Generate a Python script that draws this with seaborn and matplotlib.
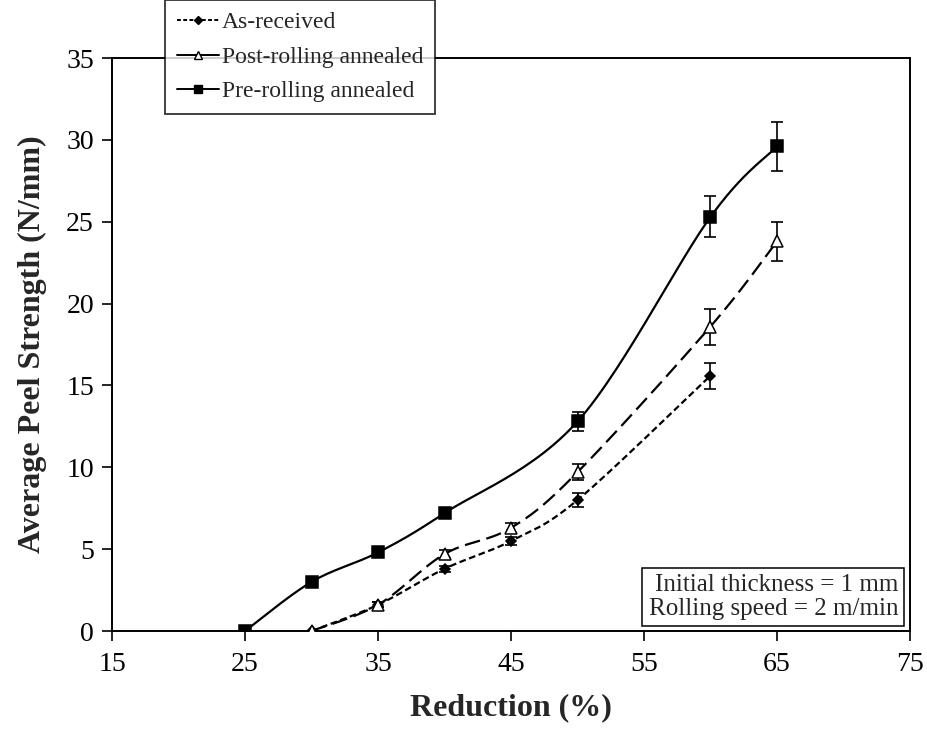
import numpy as np
import pandas as pd
import matplotlib
matplotlib.use("Agg")
import matplotlib.pyplot as plt
from matplotlib.lines import Line2D
import seaborn as sns

# data
asr_x = [30, 35, 40, 45, 50, 60]
asr_y = [0.0, 1.6, 3.8, 5.5, 8.0, 15.6]
asr_err = [0.0, 0.15, 0.2, 0.25, 0.45, 0.8]

post_x = [30, 35, 40, 45, 50, 60, 65]
post_y = [0.0, 1.6, 4.7, 6.3, 9.7, 18.6, 23.8]
post_err = [0.0, 0.15, 0.25, 0.3, 0.5, 1.1, 1.2]

pre_x = [25, 30, 35, 40, 50, 60, 65]
pre_y = [0.0, 3.0, 4.8, 7.2, 12.8, 25.3, 29.6]
pre_err = [0.0, 0.15, 0.2, 0.3, 0.6, 1.25, 1.5]

labels = ["As-received", "Post-rolling annealed", "Pre-rolling annealed"]


def smooth(x, y, n=30):
    # Catmull-Rom curve through the points (like a smoothed line in a spreadsheet)
    p = np.column_stack([x, y]).astype(float)
    p = np.vstack([p[0], p, p[-1]])
    out = []
    t = np.linspace(0, 1, n)[:, None]
    for i in range(1, len(p) - 2):
        p0, p1, p2, p3 = p[i - 1], p[i], p[i + 1], p[i + 2]
        seg = 0.5 * ((2 * p1) + (-p0 + p2) * t + (2 * p0 - 5 * p1 + 4 * p2 - p3) * t ** 2
                     + (-p0 + 3 * p1 - 3 * p2 + p3) * t ** 3)
        out.append(seg)
    s = np.vstack(out)
    return s[:, 0], s[:, 1]


sns.set_style("ticks")
plt.rcParams["font.family"] = ["Liberation Serif", "DejaVu Serif"]

fig = plt.figure(figsize=(9.28, 7.3), dpi=100)
ax = fig.add_axes([0.1207, 0.1356, 0.8599, 0.7849])

series = [
    (asr_x, asr_y, asr_err, (3, 1.6), "D", "black", 5),
    (post_x, post_y, post_err, (7, 3), "^", "white", 8),
    (pre_x, pre_y, pre_err, None, "s", "black", 8),
]
legend_ls = [(0, (2, 1.2)), "-", "-"]
handles = []
for (x, y, e, dash, mk, fc, ms), lab, lls in zip(series, labels, legend_ls):
    sx, sy = smooth(x, y)
    df = pd.DataFrame({"x": sx, "y": sy})
    sns.lineplot(data=df, x="x", y="y", sort=False, estimator=None, ax=ax,
                 color="black", linewidth=1.6)
    if dash is not None:
        ax.lines[-1].set_dashes(dash)
    ax.errorbar(x, y, yerr=e, fmt="none", ecolor="black", elinewidth=1.2,
                capsize=4, capthick=1.2, zorder=3)
    ax.plot(x, y, linestyle="none", marker=mk, markersize=ms, markerfacecolor=fc,
            markeredgecolor="black", markeredgewidth=1.1, zorder=4)
    handles.append(Line2D([0], [0], color="black", linewidth=1.4, linestyle=lls,
                          marker=mk, markersize=ms * 0.8, markerfacecolor=fc,
                          markeredgecolor="black"))

ax.set_xlim(15, 75)
ax.set_ylim(0, 35)
ax.set_xticks(np.arange(15, 76, 10))
ax.set_yticks(np.arange(0, 36, 5))
ax.tick_params(axis="both", direction="out", length=7, width=1.2, labelsize=20,
               colors="black")
ax.tick_params(axis="x", pad=8)
ax.tick_params(axis="y", pad=6)
for sp in ax.spines.values():
    sp.set_visible(True)
    sp.set_color("black")
    sp.set_linewidth(1.4)

ax.set_xlabel("Reduction (%)", fontsize=23, fontweight="bold", labelpad=12)
ax.set_ylabel("Average Peel Strength (N/mm)", fontsize=23, fontweight="bold", labelpad=14)

leg = fig.legend(handles, labels, loc="upper left", bbox_to_anchor=(0.178, 1.0),
                 fontsize=17, frameon=True, fancybox=False, edgecolor="black",
                 handlelength=1.8, handletextpad=0.1, borderpad=0.5, labelspacing=0.55,
                 borderaxespad=0)
leg.get_frame().set_linewidth(1.3)
leg.set_zorder(10)

ax.text(0.985, 0.02, "Initial thickness = 1 mm\nRolling speed = 2 m/min",
        transform=ax.transAxes, ha="right", va="bottom", fontsize=18,
        linespacing=1.1,
        bbox=dict(boxstyle="square,pad=0.25", facecolor="white", edgecolor="black",
                  linewidth=1.1))

fig.savefig("out.png", dpi=100)
